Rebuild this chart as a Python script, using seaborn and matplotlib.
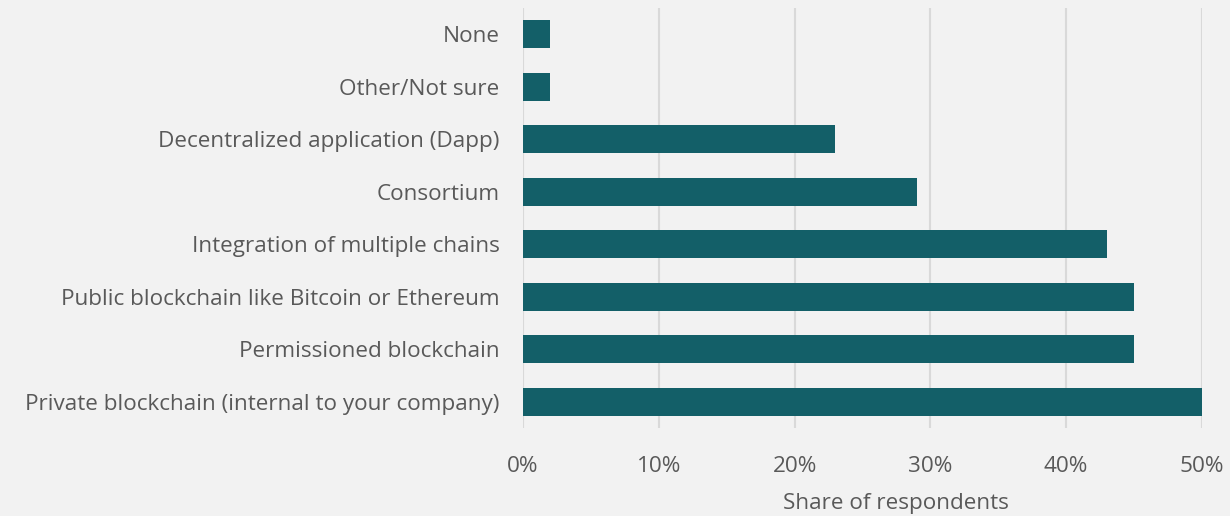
import matplotlib
matplotlib.use("Agg")
import matplotlib.pyplot as plt
import seaborn as sns
import pandas as pd
from matplotlib.ticker import FuncFormatter

categories = [
    "None",
    "Other/Not sure",
    "Decentralized application (Dapp)",
    "Consortium",
    "Integration of multiple chains",
    "Public blockchain like Bitcoin or Ethereum",
    "Permissioned blockchain",
    "Private blockchain (internal to your company)",
]
values = [2, 2, 23, 29, 43, 45, 45, 50]
xticks = [0, 10, 20, 30, 40, 50]

df = pd.DataFrame({"category": categories, "share": values})

sns.set_theme(style="white")
plt.rcParams['font.family'] = ['Open Sans', 'DejaVu Sans']

bg = "#f2f2f2"
txt = "#595959"
fs = 16.2
fig = plt.figure(figsize=(12.3, 5.16), dpi=100, facecolor=bg)
ax = fig.add_axes([0.4252, 0.1705, 0.552, 0.814])
ax.set_facecolor(bg)

sns.barplot(data=df, y="category", x="share", order=categories, color="#135f68",
            saturation=1, width=0.53, ax=ax, zorder=3, linewidth=0)

ax.set_xlim(0, 50)
ax.set_ylim(7.5, -0.5)
ax.set_xticks(xticks)
ax.xaxis.set_major_formatter(FuncFormatter(lambda v, p: f"{v:.0f}%"))
ax.grid(axis="x", color="#d9d9d9", linewidth=1.5, zorder=0)
ax.grid(axis="y", visible=False)
for s in ax.spines.values():
    s.set_visible(False)
ax.tick_params(axis="both", length=0, labelsize=fs, colors=txt)
ax.tick_params(axis="y", pad=17)
ax.tick_params(axis="x", pad=20)
ax.set_ylabel("")
ax.set_xlabel("Share of respondents", fontsize=fs, color=txt)
ax.xaxis.label.set_va("center")
ax.xaxis.set_label_coords(0.549, -0.179)

fig.savefig("out.png", dpi=100, facecolor=bg)
